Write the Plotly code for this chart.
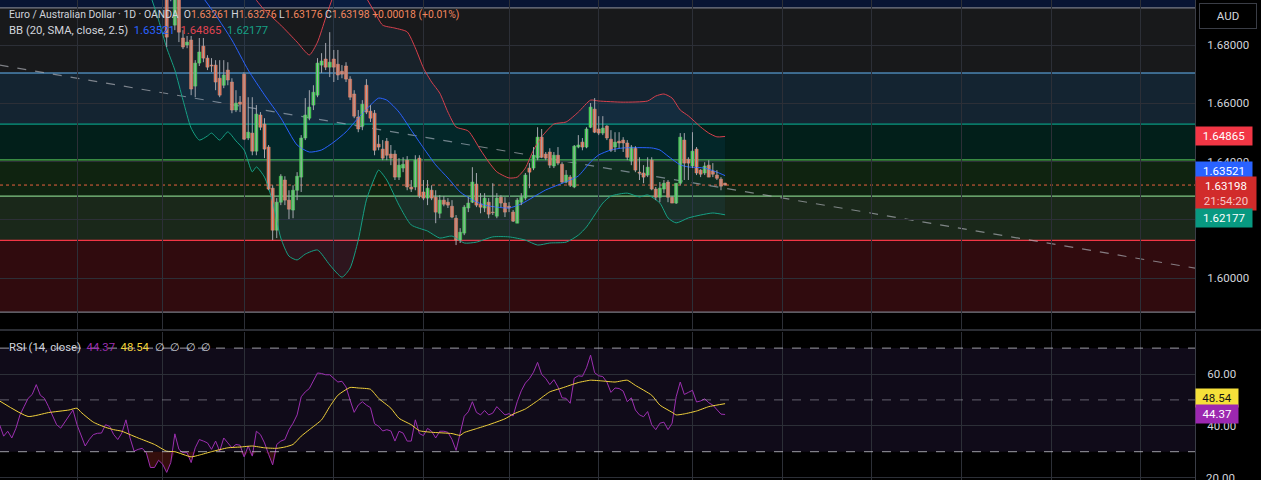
import plotly.graph_objects as go

# ---------------- data ----------------
# daily candles; index 0 = first candle visible in the price pane
opens = [1.7057, 1.6980, 1.6868, 1.6989, 1.6824, 1.6800, 1.6817, 1.6659, 1.6738, 1.6796,
         1.6755, 1.6731, 1.6731, 1.6686, 1.6662, 1.6714, 1.6673, 1.6577, 1.6604, 1.6700,
         1.6481, 1.6498, 1.6436, 1.6560, 1.6529, 1.6450, 1.6309, 1.6165, 1.6261, 1.6337,
         1.6268, 1.6234, 1.6302, 1.6347, 1.6481, 1.6549, 1.6594, 1.6628, 1.6731, 1.6752,
         1.6724, 1.6752, 1.6734, 1.6710, 1.6728, 1.6683, 1.6632, 1.6553, 1.6522, 1.6662,
         1.6573, 1.6566, 1.6460, 1.6443, 1.6470, 1.6426, 1.6426, 1.6347, 1.6378, 1.6405,
         1.6313, 1.6313, 1.6412, 1.6296, 1.6275, 1.6302, 1.6278, 1.6223, 1.6268, 1.6261,
         1.6247, 1.6206, 1.6131, 1.6155, 1.6241, 1.6261, 1.6323, 1.6254, 1.6241, 1.6261,
         1.6227, 1.6213, 1.6278, 1.6258, 1.6247, 1.6227, 1.6189, 1.6261, 1.6275, 1.6378,
         1.6378, 1.6412, 1.6484, 1.6426, 1.6433, 1.6385, 1.6422, 1.6391, 1.6330, 1.6347,
         1.6313, 1.6450, 1.6467, 1.6450, 1.6518, 1.6580, 1.6512, 1.6498, 1.6522, 1.6477,
         1.6450, 1.6470, 1.6474, 1.6464, 1.6402, 1.6446, 1.6364, 1.6361, 1.6354, 1.6405,
         1.6306, 1.6278, 1.6306, 1.6330, 1.6278, 1.6258, 1.6326, 1.6474, 1.6408, 1.6385,
         1.6443, 1.6371, 1.6361, 1.6388, 1.6368, 1.6354, 1.6340, 1.63261]
highs = [1.7074, 1.6990, 1.7023, 1.7006, 1.6851, 1.6831, 1.6831, 1.6748, 1.6824, 1.6824,
         1.6765, 1.6755, 1.6748, 1.6748, 1.6748, 1.6741, 1.6686, 1.6645, 1.6625, 1.6707,
         1.6621, 1.6621, 1.6594, 1.6570, 1.6549, 1.6457, 1.6319, 1.6275, 1.6357, 1.6350,
         1.6302, 1.6319, 1.6364, 1.6491, 1.6618, 1.6645, 1.6662, 1.6755, 1.6772, 1.6807,
         1.6844, 1.6783, 1.6783, 1.6731, 1.6741, 1.6693, 1.6645, 1.6577, 1.6611, 1.6683,
         1.6594, 1.6577, 1.6491, 1.6474, 1.6481, 1.6457, 1.6439, 1.6412, 1.6415, 1.6419,
         1.6337, 1.6422, 1.6422, 1.6337, 1.6337, 1.6319, 1.6302, 1.6285, 1.6282, 1.6275,
         1.6268, 1.6217, 1.6172, 1.6251, 1.6278, 1.6381, 1.6361, 1.6292, 1.6292, 1.6275,
         1.6326, 1.6292, 1.6285, 1.6278, 1.6261, 1.6234, 1.6275, 1.6292, 1.6361, 1.6395,
         1.6450, 1.6518, 1.6512, 1.6433, 1.6446, 1.6433, 1.6450, 1.6398, 1.6371, 1.6354,
         1.6457, 1.6491, 1.6481, 1.6518, 1.6601, 1.6618, 1.6556, 1.6556, 1.6525, 1.6508,
         1.6501, 1.6501, 1.6484, 1.6474, 1.6457, 1.6453, 1.6415, 1.6388, 1.6415, 1.6415,
         1.6313, 1.6330, 1.6337, 1.6337, 1.6282, 1.6326, 1.6498, 1.6498, 1.6415, 1.6501,
         1.6450, 1.6374, 1.6398, 1.6405, 1.6395, 1.6371, 1.6347, 1.63276]
lows = [1.6793, 1.6950, 1.6851, 1.6810, 1.6786, 1.6789, 1.6628, 1.6621, 1.6728, 1.6741,
        1.6714, 1.6707, 1.6645, 1.6621, 1.6652, 1.6662, 1.6566, 1.6570, 1.6570, 1.6474,
        1.6474, 1.6422, 1.6422, 1.6508, 1.6412, 1.6302, 1.6131, 1.6138, 1.6251, 1.6251,
        1.6203, 1.6206, 1.6268, 1.6296, 1.6474, 1.6542, 1.6577, 1.6621, 1.6704, 1.6714,
        1.6690, 1.6673, 1.6680, 1.6686, 1.6673, 1.6611, 1.6549, 1.6501, 1.6508, 1.6563,
        1.6536, 1.6422, 1.6439, 1.6405, 1.6405, 1.6388, 1.6337, 1.6337, 1.6364, 1.6302,
        1.6296, 1.6302, 1.6275, 1.6268, 1.6251, 1.6268, 1.6189, 1.6206, 1.6247, 1.6241,
        1.6206, 1.6114, 1.6121, 1.6148, 1.6227, 1.6258, 1.6244, 1.6223, 1.6227, 1.6206,
        1.6217, 1.6206, 1.6244, 1.6210, 1.6227, 1.6193, 1.6189, 1.6251, 1.6268, 1.6309,
        1.6371, 1.6405, 1.6412, 1.6405, 1.6378, 1.6378, 1.6388, 1.6326, 1.6326, 1.6313,
        1.6309, 1.6446, 1.6439, 1.6446, 1.6515, 1.6498, 1.6491, 1.6491, 1.6474, 1.6433,
        1.6433, 1.6446, 1.6433, 1.6405, 1.6388, 1.6364, 1.6337, 1.6326, 1.6347, 1.6302,
        1.6268, 1.6261, 1.6292, 1.6261, 1.6258, 1.6255, 1.6319, 1.6337, 1.6337, 1.6378,
        1.6354, 1.6347, 1.6354, 1.6347, 1.6347, 1.6337, 1.6302, 1.63176]
closes = [1.6827, 1.6962, 1.6989, 1.6844, 1.6793, 1.6810, 1.6649, 1.6738, 1.6776, 1.6755,
          1.6724, 1.6728, 1.6673, 1.6628, 1.6697, 1.6680, 1.6577, 1.6601, 1.6597, 1.6477,
          1.6501, 1.6436, 1.6563, 1.6518, 1.6443, 1.6306, 1.6165, 1.6261, 1.6350, 1.6268,
          1.6237, 1.6302, 1.6350, 1.6481, 1.6560, 1.6587, 1.6638, 1.6738, 1.6745, 1.6724,
          1.6741, 1.6724, 1.6697, 1.6700, 1.6683, 1.6621, 1.6556, 1.6512, 1.6597, 1.6570,
          1.6549, 1.6439, 1.6450, 1.6412, 1.6422, 1.6412, 1.6347, 1.6388, 1.6391, 1.6313,
          1.6306, 1.6405, 1.6282, 1.6275, 1.6309, 1.6275, 1.6227, 1.6268, 1.6254, 1.6251,
          1.6210, 1.6131, 1.6158, 1.6244, 1.6258, 1.6330, 1.6251, 1.6244, 1.6275, 1.6220,
          1.6225, 1.6275, 1.6258, 1.6227, 1.6241, 1.6196, 1.6268, 1.6278, 1.6354, 1.6364,
          1.6422, 1.6484, 1.6415, 1.6412, 1.6388, 1.6422, 1.6395, 1.6330, 1.6354, 1.6319,
          1.6453, 1.6457, 1.6450, 1.6512, 1.6587, 1.6501, 1.6498, 1.6515, 1.6481, 1.6439,
          1.6467, 1.6464, 1.6464, 1.6415, 1.6450, 1.6371, 1.6361, 1.6347, 1.6381, 1.6306,
          1.6278, 1.6309, 1.6326, 1.6278, 1.6258, 1.6326, 1.6484, 1.6395, 1.6395, 1.6436,
          1.6361, 1.6357, 1.6385, 1.6347, 1.6357, 1.6343, 1.6316, 1.63198]

# Bollinger Bands (20, SMA, close, 2.5)
bb_upper_x = [18, 21, 24, 28, 32, 35, 37, 39, 41, 44, 47, 49, 51, 53, 56, 59, 61, 63, 65, 67,
              69, 71, 74, 77, 79, 81, 84, 86, 88, 90, 92, 95, 98, 101, 104, 106, 112, 118, 120,
              122, 124, 126, 128, 131, 133, 135, 137]
bb_upper = [1.7023, 1.6971, 1.6920, 1.6868, 1.6810, 1.6766, 1.6810, 1.6893, 1.6971, 1.7040,
            1.7006, 1.6961, 1.6913, 1.6868, 1.6858, 1.6845, 1.6790, 1.6721, 1.6673, 1.6635,
            1.6570, 1.6519, 1.6505, 1.6440, 1.6399, 1.6365, 1.6344, 1.6347, 1.6378, 1.6440,
            1.6485, 1.6529, 1.6536, 1.6570, 1.6611, 1.6608, 1.6604, 1.6608, 1.6625, 1.6632,
            1.6618, 1.6577, 1.6557, 1.6519, 1.6498, 1.6485, 1.64865]
bb_basis_x = [9, 12, 16, 20, 24, 28, 32, 35, 38, 41, 44, 47, 50, 52, 54, 57, 60, 63, 66, 69,
              72, 75, 78, 81, 84, 87, 90, 93, 96, 99, 101, 104, 106, 109, 112, 119, 121, 123,
              126, 128, 132, 135, 137]
bb_basis = [1.6961, 1.6903, 1.6817, 1.6714, 1.6629, 1.6550, 1.6457, 1.6433, 1.6440, 1.6467,
            1.6502, 1.6550, 1.6594, 1.6618, 1.6611, 1.6570, 1.6508, 1.6447, 1.6389, 1.6344,
            1.6296, 1.6269, 1.6251, 1.6244, 1.6241, 1.6255, 1.6279, 1.6303, 1.6320, 1.6337,
            1.6351, 1.6399, 1.6423, 1.6440, 1.6447, 1.6447, 1.6440, 1.6419, 1.6389, 1.6382,
            1.6378, 1.6364, 1.63521]
bb_lower_x = [-4, -2, 0, 2, 4, 6, 8, 10, 11, 13, 15, 17, 19, 21, 22, 24, 26, 28, 30, 32, 34,
              37, 40, 43, 45, 47, 49, 51, 52, 54, 57, 60, 64, 67, 70, 73, 76, 80, 84, 88, 91,
              94, 98, 101, 103, 105, 107, 109, 113, 116, 118, 121, 123, 125, 128, 131, 134, 137]
bb_lower = [1.6971, 1.6886, 1.6790, 1.6714, 1.6611, 1.6515, 1.6474, 1.6488, 1.6498, 1.6474,
            1.6502, 1.6471, 1.6440, 1.6365, 1.6382, 1.6347, 1.6262, 1.6138, 1.6076, 1.6063,
            1.6083, 1.6097, 1.6046, 1.6004, 1.6035, 1.6131, 1.6269, 1.6344, 1.6371, 1.6337,
            1.6251, 1.6183, 1.6162, 1.6138, 1.6145, 1.6121, 1.6124, 1.6142, 1.6142, 1.6131,
            1.6114, 1.6121, 1.6124, 1.6148, 1.6176, 1.6217, 1.6258, 1.6282, 1.6292, 1.6279,
            1.6286, 1.6258, 1.6207, 1.6190, 1.6207, 1.6217, 1.6224, 1.62177]

# RSI (14, close) and its moving average
rsi_x = list(range(-41, 138))
rsi = [40.4, 36.0, 37.9, 35.3, 39.0, 44.2, 47.4, 50.6, 52.1, 55.9,
       51.8, 50.6, 47.4, 43.6, 40.4, 39.1, 41.4, 44.2, 46.1, 40.4,
       36.6, 32.2, 34.7, 36.6, 37.1, 37.2, 40.4, 39.8, 36.6, 34.7,
       37.2, 42.3, 35.3, 30.2, 30.9, 31.3, 29.6, 23.9, 23.9, 26.7,
       25.2, 22.0, 25.8, 36.9, 30.9, 29.6, 29.6, 25.8, 31.5, 34.7,
       34.1, 33.4, 30.9, 34.1, 30.2, 35.3, 33.4, 31.5, 32.8, 32.5,
       28.0, 32.2, 28.3, 37.9, 36.6, 33.4, 29.0, 24.9, 32.8, 34.1,
       34.7, 38.5, 41.0, 44.2, 51.2, 53.1, 54.4, 57.2, 60.4, 60.2,
       59.7, 59.7, 58.2, 56.9, 57.2, 55.0, 49.9, 45.2, 48.0, 49.3,
       48.0, 47.0, 40.8, 39.8, 38.0, 38.5, 38.0, 34.1, 37.9, 37.2,
       34.1, 34.1, 42.3, 37.0, 36.2, 39.0, 37.9, 35.3, 37.9, 37.9,
       37.5, 34.7, 30.5, 36.6, 43.7, 45.4, 49.3, 45.2, 44.2, 45.9,
       44.2, 44.9, 47.4, 45.8, 44.2, 44.7, 43.8, 49.3, 53.5, 56.5,
       58.2, 60.7, 64.5, 59.8, 58.3, 55.9, 57.8, 55.0, 50.8, 50.6,
       48.7, 58.4, 59.3, 59.1, 62.4, 67.3, 60.5, 59.3, 59.0, 56.9,
       52.9, 54.6, 54.4, 53.4, 49.3, 50.8, 46.1, 44.2, 43.5, 45.5,
       40.4, 38.5, 41.0, 41.4, 38.5, 41.0, 51.2, 56.9, 52.1, 52.9,
       53.7, 49.2, 49.6, 50.4, 48.9, 48.0, 46.1, 44.5, 44.37]
rsi_ma_x = [-41, -34, -29, -24, -22, -21, -18, -15, -13, -11, -9, -7, -3, 0, 2, 6, 8, 11, 15,
            18, 21, 24, 27, 29, 31, 33, 35, 38, 40, 42, 45, 47, 50, 52, 55, 57, 60, 62, 65,
            70, 72, 73, 76, 79, 83, 85, 88, 91, 94, 97, 101, 104, 107, 110, 113, 115, 119,
            121, 124, 125, 127, 130, 133, 135, 137]
rsi_ma = [49.6, 43.6, 45.1, 46.1, 46.8, 45.2, 41.4, 39.4, 38.5, 37.9, 36.6, 35.3, 32.8, 30.2,
          30.0, 28.0, 28.7, 30.0, 31.5, 31.8, 32.2, 31.5, 31.3, 31.8, 32.8, 36.0, 38.5, 42.3,
          47.4, 51.8, 54.8, 54.6, 54.1, 50.6, 46.8, 42.9, 40.4, 38.1, 37.5, 37.0, 36.3, 37.4,
          38.9, 40.4, 42.7, 44.5, 46.5, 49.7, 53.1, 54.6, 56.7, 57.6, 57.3, 56.9, 57.6, 55.6,
          51.8, 48.0, 45.2, 44.2, 44.6, 45.7, 47.4, 48.0, 48.54]

# Fibonacci retracement levels (0, 0.236, 0.382, 0.5, 0.618, 0.786, 1, 1.618)
fib_ratios = ["0", "0.236", "0.382", "0.5", "0.618", "0.786", "1", "1.618"]
fib_prices = [1.5884, 1.6130, 1.6282, 1.6406, 1.6529, 1.6704, 1.6927, 1.7572]

# trend line drawing (two anchors) and last price
trend_x = [-41.0, 252.3]
trend_y = [1.6731, 1.6035]
last_price = 1.63198

price_ticks = [1.60, 1.62, 1.64, 1.66, 1.68]
rsi_ticks = [20, 40, 60]
rsi_levels = [30, 50, 70]
time_grid = [-22, -1, 19, 41, 63, 84, 106, 129, 151, 173, 195, 217, 239]

# ---------------- styling ----------------
BG = "#000000"
GRID = "#2c2f37"
TXT = "#d1d4dc"
UP, UP_EDGE = "#45d145", "#5bd95b"
DN, DN_EDGE = "#f2683f", "#f58d6c"
WICK = "#a3a6ae"
FONT = "Roboto"
fib_colors = ["#787b86", "#f23645", "#81c784", "#4caf50", "#089981", "#64b5f6", "#787b86", "#2962ff"]

X_RANGE = [-40.9, 252.3]
PRICE_RANGE = [1.58262, 1.69543]
RSI_RANGE = [19.07, 76.22]

fig = go.Figure()

# Bollinger background fill
fig.add_trace(go.Scatter(
    x=bb_upper_x + bb_lower_x[::-1], y=bb_upper + bb_lower[::-1],
    fill="toself", fillcolor="rgba(33,150,243,0.07)", line=dict(width=0),
    mode="lines", hoverinfo="skip", xaxis="x", yaxis="y"))
fig.add_trace(go.Scatter(x=bb_upper_x, y=bb_upper, mode="lines", line=dict(color="#d8404c", width=1, shape="spline", smoothing=0.6), hoverinfo="skip"))
fig.add_trace(go.Scatter(x=bb_basis_x, y=bb_basis, mode="lines", line=dict(color="#2962ff", width=1, shape="spline", smoothing=0.6), hoverinfo="skip"))
fig.add_trace(go.Scatter(x=bb_lower_x, y=bb_lower, mode="lines", line=dict(color="#16a085", width=1, shape="spline", smoothing=0.6), hoverinfo="skip"))

# candle wicks
wx, wy = [], []
for i, (h, l) in enumerate(zip(highs, lows)):
    wx += [i, i, None]
    wy += [l, h, None]
fig.add_trace(go.Scatter(x=wx, y=wy, mode="lines", line=dict(color=WICK, width=1), hoverinfo="skip"))

# candle bodies
up_i = [i for i in range(len(closes)) if closes[i] >= opens[i]]
dn_i = [i for i in range(len(closes)) if closes[i] < opens[i]]
fig.add_trace(go.Bar(x=up_i, y=[closes[i] - opens[i] for i in up_i], base=[opens[i] for i in up_i],
                     width=0.76, marker=dict(color=UP, line=dict(color=UP_EDGE, width=0.5)), hoverinfo="skip"))
fig.add_trace(go.Bar(x=dn_i, y=[opens[i] - closes[i] for i in dn_i], base=[closes[i] for i in dn_i],
                     width=0.76, marker=dict(color=DN, line=dict(color=DN_EDGE, width=0.5)), hoverinfo="skip"))

# RSI pane: oversold fill, RSI, RSI MA
fig.add_trace(go.Scatter(x=rsi_x, y=[30] * len(rsi_x), mode="lines", line=dict(width=0),
                         hoverinfo="skip", xaxis="x2", yaxis="y2"))
fig.add_trace(go.Scatter(x=rsi_x, y=[min(v, 30) for v in rsi], mode="lines", line=dict(width=0),
                         fill="tonexty", fillcolor="rgba(150,40,35,0.35)", hoverinfo="skip", xaxis="x2", yaxis="y2"))
fig.add_trace(go.Scatter(x=rsi_x, y=rsi, mode="lines", line=dict(color="#9c2fb0", width=1),
                         hoverinfo="skip", xaxis="x2", yaxis="y2"))
fig.add_trace(go.Scatter(x=rsi_ma_x, y=rsi_ma, mode="lines", line=dict(color="#f2d23c", width=1, shape="spline", smoothing=0.5),
                         hoverinfo="skip", xaxis="x2", yaxis="y2"))

shapes = []
# fib bands (below grid)
for k in range(len(fib_prices) - 1):
    shapes.append(dict(type="rect", xref="paper", yref="y", x0=0, x1=1,
                       y0=fib_prices[k], y1=fib_prices[k + 1], fillcolor=fib_colors[k + 1],
                       opacity=0.2, line=dict(width=0), layer="below"))
# fib lines
for k in range(len(fib_prices) - 1):
    shapes.append(dict(type="line", xref="paper", yref="y", x0=0, x1=1,
                       y0=fib_prices[k], y1=fib_prices[k], line=dict(color=fib_colors[k], width=1.2), layer="below"))
# trend line
shapes.append(dict(type="line", xref="x", yref="y", x0=trend_x[0], x1=trend_x[1], y0=trend_y[0], y1=trend_y[1],
                   line=dict(color="rgba(170,172,180,0.7)", width=1.2, dash="dash"), layer="below"))
# last price line
shapes.append(dict(type="line", xref="paper", yref="y", x0=0, x1=1, y0=last_price, y1=last_price,
                   line=dict(color="#e8623f", width=1, dash="dot"), layer="below"))
# RSI band and levels
shapes.append(dict(type="rect", xref="paper", yref="y2", x0=0, x1=1, y0=rsi_levels[0], y1=rsi_levels[2],
                   fillcolor="rgba(126,87,194,0.13)", line=dict(width=0), layer="below"))
for lv, a in zip(rsi_levels, [0.75, 0.45, 0.75]):
    shapes.append(dict(type="line", xref="paper", yref="y2", x0=0, x1=1, y0=lv, y1=lv,
                       line=dict(color=f"rgba(205,207,215,{a})", width=1, dash="dash"), layer="above"))
# pane separator
shapes.append(dict(type="line", xref="paper", yref="paper", x0=0, x1=1261 / 1195, y0=150 / 480, y1=150 / 480,
                   line=dict(color="#3a3d46", width=1.5), layer="above"))

ann = []
hdr = (f"<span style='color:{TXT}'>Euro / Australian Dollar · 1D · OANDA</span>  "
       f"<span style='color:{TXT}'>O</span><span style='color:#f2875f'>1.63261</span> "
       f"<span style='color:{TXT}'>H</span><span style='color:#f2875f'>1.63276</span> "
       f"<span style='color:{TXT}'>L</span><span style='color:#f2875f'>1.63176</span> "
       f"<span style='color:{TXT}'>C</span><span style='color:#f2875f'>1.63198</span> "
       f"<span style='color:#f2875f'>+0.00018 (+0.01%)</span>")
ann.append(dict(text=hdr, xref="paper", yref="paper", x=7 / 1195, y=1 - 14 / 480, xanchor="left", yanchor="middle",
                showarrow=False, font=dict(family=FONT, size=10.4, color=TXT)))
bbl = (f"<span style='color:{TXT}'>BB (20, SMA, close, 2.5)</span>  "
       f"<span style='color:#2962ff'>1.63521</span>  <span style='color:#e04452'>1.64865</span>  "
       f"<span style='color:#16a085'>1.62177</span>")
ann.append(dict(text=bbl, xref="paper", yref="paper", x=7 / 1195, y=1 - 31 / 480, xanchor="left", yanchor="middle",
                showarrow=False, font=dict(family=FONT, size=11.3, color=TXT)))
rsil = (f"<span style='color:{TXT}'>RSI (14, close)</span>  <span style='color:#9c2fb0'>44.37</span>  "
        f"<span style='color:#f2d23c'>48.54</span>  <span style='color:{TXT}'>∅  ∅  ∅  ∅</span>")
ann.append(dict(text=rsil, xref="paper", yref="paper", x=7 / 1195, y=1 - 347 / 480, xanchor="left", yanchor="middle",
                showarrow=False, font=dict(family=FONT, size=11.3, color=TXT)))

def tag(text, yval, yref, bg, fg="#ffffff", yshift=0, w=52):
    return dict(text=text, xref="paper", yref=yref, x=1.0, y=yval, xanchor="left", yanchor="middle",
                showarrow=False, bgcolor=bg, font=dict(family=FONT, size=11.5, color=fg), width=w,
                borderpad=2, yshift=yshift, align="center")

# bottom RSI tick label (partly below the window edge)
ann.append(dict(text="20.00", xref="paper", yref="y2", x=1.0, y=rsi_ticks[0], xanchor="left", yanchor="middle",
                xshift=9, showarrow=False, font=dict(family=FONT, size=11.5, color=TXT)))
ann.append(tag("1.64865", bb_upper[-1], "y", "#f23645"))
ann.append(tag("1.63521", bb_basis[-1], "y", "#2962ff", yshift=5))
ann.append(tag("1.63198<br><span style='color:#f7c4c4'>21:54:20</span>", last_price, "y", "#d12b2b", yshift=-8, w=56))
ann.append(tag("1.62177", bb_lower[-1], "y", "#089981", yshift=-3))
ann.append(tag("48.54", rsi_ma[-1], "y2", "#f5e03a", fg="#131313", yshift=6, w=38))
ann.append(tag("44.37", rsi[-1], "y2", "#9c27b0", w=38))
ann.append(dict(text="AUD", xref="paper", yref="paper", x=1228 / 1195, y=1 - 16 / 480, xanchor="center", yanchor="middle",
                showarrow=False, font=dict(family=FONT, size=11.5, color=TXT), bordercolor="#3a3d46", borderwidth=1,
                borderpad=5, width=46, bgcolor="#000000"))

axis_common = dict(showgrid=True, gridcolor=GRID, gridwidth=1, zeroline=False, showticklabels=False,
                   tickmode="array", tickvals=time_grid, range=X_RANGE, ticks="", showline=False)
fig.update_layout(
    width=1261, height=480, margin=dict(l=0, r=66, t=0, b=0),
    paper_bgcolor=BG, plot_bgcolor=BG, showlegend=False, barmode="overlay",
    xaxis=dict(domain=[0, 1], anchor="y", **axis_common),
    xaxis2=dict(domain=[0, 1], anchor="y2", matches="x", **axis_common),
    yaxis=dict(domain=[1 - 329 / 480, 1], range=PRICE_RANGE, side="right", tickmode="array",
               tickvals=price_ticks, ticktext=[f"{v:.5f}" for v in price_ticks], showgrid=True, gridcolor=GRID,
               zeroline=False, showline=True, linecolor="#3a3d46", ticks="", ticklabelstandoff=9,
               tickfont=dict(family=FONT, size=11.5, color=TXT), automargin=False),
    yaxis2=dict(domain=[0, 148 / 480], range=RSI_RANGE, side="right", tickmode="array",
                tickvals=rsi_ticks, ticktext=[f"{v:.2f}" for v in rsi_ticks], showgrid=True, gridcolor=GRID,
                zeroline=False, showline=True, linecolor="#3a3d46", ticks="", ticklabelstandoff=9,
                tickfont=dict(family=FONT, size=11.5, color=TXT), automargin=False, anchor="x2"),
    shapes=shapes, annotations=ann,
)
for tr in fig.data:
    if tr.xaxis is None:
        tr.update(xaxis="x", yaxis="y")

fig.write_html("out.html", config={"displayModeBar": False, "staticPlot": True},
               post_script="document.body.style.margin='0px';document.body.style.background='#000';")
